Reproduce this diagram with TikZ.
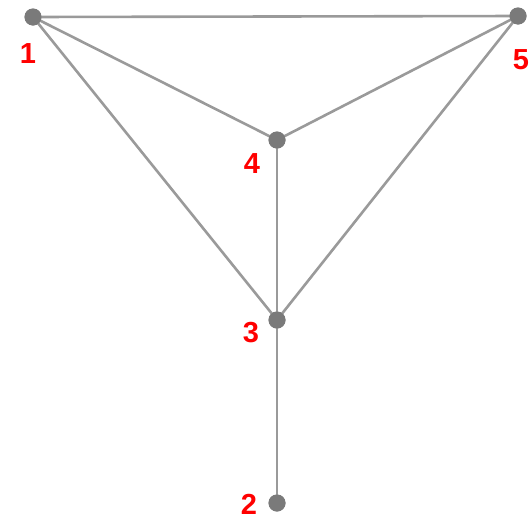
\documentclass[tikz,border=0pt]{standalone}
\usepackage{fontspec}
\setmainfont{Liberation Sans}
\begin{document}
\begin{tikzpicture}[x=1pt,y=-1pt,
  dot/.style={circle,fill=dotgray,inner sep=0pt,minimum size=17pt},
  edge/.style={draw=edgegray,line width=2.6pt},
  lab/.style={text=red,font=\fontsize{29}{29}\selectfont\bfseries,inner sep=0pt}]
\definecolor{dotgray}{HTML}{7A7A7A}
\definecolor{edgegray}{HTML}{9A9A9A}
\useasboundingbox (0,0) rectangle (530,520);
\node[dot] (n1) at (33,17) {};
\node[dot] (n5) at (518,16) {};
\node[dot] (n4) at (277,140) {};
\node[dot] (n3) at (277,320) {};
\node[dot] (n2) at (277,503) {};
\begin{scope}[on background layer/.try]
\end{scope}
\draw[edge] (n1.center) -- (n5.center);
\draw[edge] (n1.center) -- (n4.center);
\draw[edge] (n1.center) -- (n3.center);
\draw[edge] (n5.center) -- (n4.center);
\draw[edge] (n5.center) -- (n3.center);
\draw[edge] (n4.center) -- (n3.center);
\draw[edge] (n3.center) -- (n2.center);
\node[dot] at (n1) {};
\node[dot] at (n5) {};
\node[dot] at (n4) {};
\node[dot] at (n3) {};
\node[dot] at (n2) {};
\node[lab] (l1) at (28,54) {1};
\node[lab] (l5) at (521,60) {5};
\node[lab] (l4) at (252,164) {4};
\node[lab] (l3) at (251,333) {3};
\node[lab] (l2) at (249,504) {2};
\end{tikzpicture}
\end{document}
